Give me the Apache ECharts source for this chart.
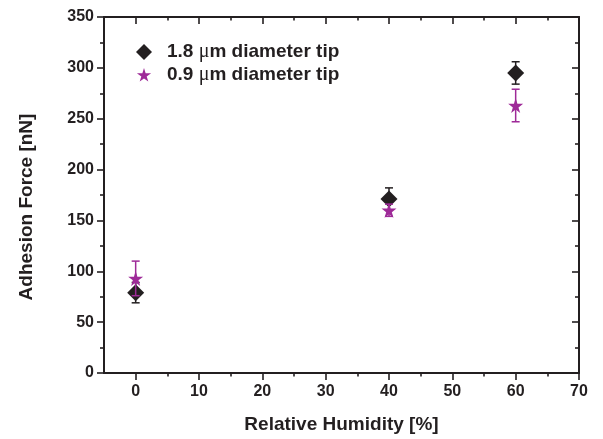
<!DOCTYPE html>
<html><head><meta charset="utf-8">
<script src="https://cdn.jsdelivr.net/npm/echarts@6/dist/echarts.min.js"></script>
<style>html,body{margin:0;padding:0;background:#fff}#c{width:603px;height:439px}</style>
</head><body><div id="c"></div>
<script>
const humidity = [0, 40, 60];
const tip18Mean = [79, 171, 295];
const tip18Err = [10, 11, 11];
const tip09Mean = [93, 160, 263];
const tip09Err = [17, 6, 16];
const seriesNames = ['1.8 \u03bcm diameter tip', '0.9 \u03bcm diameter tip'];
const xMajorTicks = [0, 10, 20, 30, 40, 50, 60, 70];
const xMinorTicks = [5, 15, 25, 35, 45, 55, 65];

const black = '#231f20';
const purple = '#9e2a98';
const starPath = 'path://M50,0 L61,35 L98,35 L68,57 L79,91 L50,70 L21,91 L32,57 L2,35 L39,35 Z';
const legendStarPath = 'path://M-4,-6 L-4,-6 L-4,-6 Z M104,100 L104,100 L104,100 Z M50,0 L61,35 L98,35 L68,57 L79,91 L50,70 L21,91 L32,57 L2,35 L39,35 Z';
const font = 'Liberation Sans, Arial, sans-serif';

function errData(means, errs) {
  return humidity.map((x, i) => [x, means[i] - errs[i], means[i] + errs[i]]);
}
function errRender(color) {
  return function (params, api) {
    const x = api.value(0);
    const lo = api.coord([x, api.value(1)]);
    const hi = api.coord([x, api.value(2)]);
    const w = 4;
    const st = { stroke: color, lineWidth: 1.5 };
    return { type: 'group', children: [
      { type: 'line', shape: { x1: lo[0], y1: lo[1], x2: hi[0], y2: hi[1] }, style: st },
      { type: 'line', shape: { x1: lo[0] - w, y1: lo[1], x2: lo[0] + w, y2: lo[1] }, style: st },
      { type: 'line', shape: { x1: hi[0] - w, y1: hi[1], x2: hi[0] + w, y2: hi[1] }, style: st }
    ]};
  };
}

const chart = echarts.init(document.getElementById('c'));
const axisLine = { show: true, onZero: false, lineStyle: { color: black, width: 2 } };
const noLine = { show: false, onZero: false };
const tickStyle = { color: black, width: 1.6 };
function xAx(pos, ticks, len, inside, showLine, labels) {
  return {
    type: 'value', min: -5, max: 70, interval: 5, position: pos,
    axisLine: showLine ? axisLine : noLine,
    axisTick: { show: true, inside: inside, length: len, customValues: ticks, lineStyle: tickStyle },
    axisLabel: labels ? { show: true, customValues: ticks, fontFamily: font, fontWeight: 'bold', fontSize: 16, color: black, margin: 11 } : { show: false },
    splitLine: { show: false }
  };
}
const xBottom = xAx('bottom', xMajorTicks, 7, false, true, true);
xBottom.name = 'Relative Humidity [%]';
xBottom.nameLocation = 'middle';
xBottom.nameGap = 42;
xBottom.nameTextStyle = { fontFamily: font, fontWeight: 'bold', fontSize: 19, color: black };

chart.setOption({
  animation: false,
  grid: { left: 104, right: 24, top: 17, bottom: 66 },
  legend: {
    left: 131, top: 37, orient: 'vertical', itemGap: 3, itemWidth: 16, itemHeight: 16,
    formatter: function (name) {
      const parts = name.split('\u03bc');
      return '{b|' + parts[0] + '}{mu|\u03bc}{b|' + parts[1] + '}';
    },
    textStyle: {
      padding: [0, 0, 0, 10],
      rich: {
        b: { fontFamily: font, fontWeight: 'bold', fontSize: 19, color: black },
        mu: { fontFamily: 'Liberation Serif, DejaVu Serif, serif', fontWeight: 'normal', fontSize: 20, color: black }
      }
    },
    data: [
      { name: seriesNames[0], icon: 'diamond', itemStyle: { color: black } },
      { name: seriesNames[1], icon: legendStarPath, itemStyle: { color: purple } }
    ]
  },
  xAxis: [
    xBottom,
    xAx('bottom', xMinorTicks, 3.5, false, false, false),
    xAx('top', xMajorTicks, 7, true, true, false),
    xAx('top', xMinorTicks, 3.5, true, false, false)
  ],
  yAxis: [{
    type: 'value', min: 0, max: 350, interval: 50, position: 'left',
    name: 'Adhesion Force [nN]', nameLocation: 'middle', nameGap: 68,
    nameTextStyle: { fontFamily: font, fontWeight: 'bold', fontSize: 19, color: black, padding: [0, 24, 0, 0] },
    axisLine: axisLine,
    axisTick: { show: true, inside: false, length: 7, lineStyle: tickStyle },
    minorTick: { show: true, splitNumber: 2, length: 4, lineStyle: tickStyle },
    axisLabel: { fontFamily: font, fontWeight: 'bold', fontSize: 16, color: black, margin: 10 },
    splitLine: { show: false }
  }, {
    type: 'value', min: 0, max: 350, interval: 50, position: 'right',
    axisLine: axisLine,
    axisTick: { show: true, inside: true, length: 7, lineStyle: tickStyle },
    minorTick: { show: true, splitNumber: 2, length: 4, lineStyle: tickStyle },
    axisLabel: { show: false }, splitLine: { show: false }
  }],
  series: [
    { type: 'custom', name: 'err18', renderItem: errRender(black), data: errData(tip18Mean, tip18Err), z: 1 },
    { type: 'scatter', name: seriesNames[0], symbol: 'diamond', symbolSize: 17,
      itemStyle: { color: black, opacity: 1 }, data: humidity.map((x, i) => [x, tip18Mean[i]]), z: 2 },
    { type: 'custom', name: 'err09', renderItem: errRender(purple), data: errData(tip09Mean, tip09Err), z: 3 },
    { type: 'scatter', name: seriesNames[1], symbol: starPath, symbolSize: 15,
      itemStyle: { color: purple, opacity: 1 }, data: humidity.map((x, i) => [x, tip09Mean[i]]), z: 4 }
  ]
});
</script></body></html>
